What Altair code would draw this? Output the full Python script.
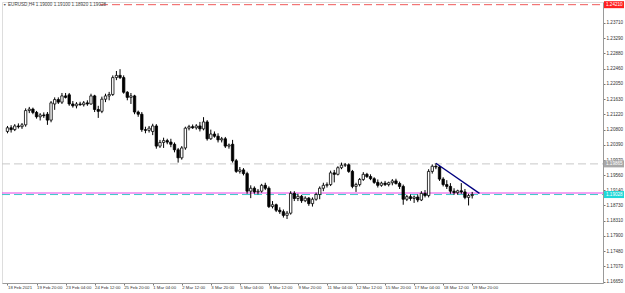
import altair as alt
import pandas as pd

# ---------------- data (EURUSD, H4) ----------------
opens = [1.2075, 1.2085, 1.2080, 1.2090, 1.2088, 1.2093, 1.2132, 1.2136, 1.2127, 1.2115,
         1.2120, 1.2122, 1.2106, 1.2150, 1.2162, 1.2155, 1.2172, 1.2175, 1.2150, 1.2145,
         1.2150, 1.2148, 1.2153, 1.2150, 1.2172, 1.2135, 1.2130, 1.2163, 1.2172, 1.2176,
         1.2222, 1.2228, 1.2222, 1.2182, 1.2168, 1.2172, 1.2128, 1.2122, 1.2080, 1.2078,
         1.2075, 1.2090, 1.2035, 1.2045, 1.2050, 1.2046, 1.2040, 1.2025, 1.2003, 1.2030,
         1.2084, 1.2088, 1.2085, 1.2090, 1.2082, 1.2101, 1.2055, 1.2068, 1.2062, 1.2052,
         1.2055, 1.2035, 1.2040, 1.1995, 1.1966, 1.1970, 1.1960, 1.1912, 1.1920, 1.1910,
         1.1912, 1.1928, 1.1920, 1.1870, 1.1875, 1.1860, 1.1856, 1.1846, 1.1852, 1.1906,
         1.1892, 1.1898, 1.1886, 1.1893, 1.1878, 1.1890, 1.1903, 1.1920, 1.1928, 1.1930,
         1.1962, 1.1958, 1.1976, 1.1983, 1.1984, 1.1966, 1.1925, 1.1930, 1.1944, 1.1958,
         1.1952, 1.1946, 1.1936, 1.1928, 1.1934, 1.1930, 1.1935, 1.1940, 1.1933, 1.1925,
         1.1890, 1.1897, 1.1892, 1.1896, 1.1888, 1.1906, 1.1900, 1.1966, 1.1980, 1.1978,
         1.1945, 1.1930, 1.1925, 1.1912, 1.1908, 1.1913, 1.1910, 1.1895, 1.1900]
highs = [1.2090, 1.2092, 1.2095, 1.2097, 1.2098, 1.2138, 1.2142, 1.2140, 1.2131, 1.2125,
         1.2127, 1.2128, 1.2158, 1.2168, 1.2168, 1.2180, 1.2180, 1.2180, 1.2158, 1.2155,
         1.2156, 1.2158, 1.2160, 1.2178, 1.2175, 1.2145, 1.2170, 1.2178, 1.2183, 1.2228,
         1.2240, 1.2245, 1.2228, 1.2185, 1.2180, 1.2175, 1.2132, 1.2128, 1.2088, 1.2090,
         1.2096, 1.2095, 1.2052, 1.2058, 1.2055, 1.2055, 1.2045, 1.2030, 1.2035, 1.2088,
         1.2093, 1.2094, 1.2095, 1.2101, 1.2114, 1.2106, 1.2080, 1.2075, 1.2070, 1.2060,
         1.2060, 1.2042, 1.2052, 1.2000, 1.1978, 1.1975, 1.1965, 1.1928, 1.1925, 1.1918,
         1.1932, 1.1935, 1.1925, 1.1885, 1.1878, 1.1868, 1.1862, 1.1858, 1.1912, 1.1912,
         1.1905, 1.1902, 1.1898, 1.1896, 1.1895, 1.1908, 1.1925, 1.1935, 1.1936, 1.1968,
         1.1970, 1.1980, 1.1990, 1.1989, 1.1988, 1.1970, 1.1935, 1.1948, 1.1964, 1.1962,
         1.1958, 1.1950, 1.1944, 1.1938, 1.1940, 1.1938, 1.1945, 1.1946, 1.1938, 1.1930,
         1.1902, 1.1903, 1.1900, 1.1903, 1.1912, 1.1915, 1.1972, 1.1985, 1.1988, 1.1982,
         1.1950, 1.1942, 1.1934, 1.1920, 1.1916, 1.1934, 1.1918, 1.1905, 1.1910]
lows = [1.2070, 1.2072, 1.2076, 1.2083, 1.2082, 1.2088, 1.2125, 1.2122, 1.2110, 1.2105,
        1.2112, 1.2093, 1.2100, 1.2134, 1.2150, 1.2150, 1.2165, 1.2145, 1.2140, 1.2138,
        1.2145, 1.2143, 1.2145, 1.2148, 1.2128, 1.2112, 1.2125, 1.2155, 1.2160, 1.2172,
        1.2215, 1.2218, 1.2178, 1.2160, 1.2150, 1.2122, 1.2115, 1.2074, 1.2070, 1.2072,
        1.2065, 1.2028, 1.2030, 1.2030, 1.2040, 1.2032, 1.2018, 1.1990, 1.1998, 1.2025,
        1.2078, 1.2082, 1.2080, 1.2075, 1.2078, 1.2050, 1.2052, 1.2058, 1.2045, 1.2045,
        1.2030, 1.2028, 1.1990, 1.1962, 1.1960, 1.1955, 1.1905, 1.1893, 1.1905, 1.1903,
        1.1908, 1.1915, 1.1866, 1.1865, 1.1855, 1.1850, 1.1840, 1.1836, 1.1848, 1.1885,
        1.1885, 1.1880, 1.1882, 1.1872, 1.1870, 1.1886, 1.1890, 1.1912, 1.1922, 1.1926,
        1.1936, 1.1955, 1.1972, 1.1978, 1.1962, 1.1920, 1.1910, 1.1925, 1.1940, 1.1948,
        1.1942, 1.1932, 1.1922, 1.1924, 1.1926, 1.1925, 1.1928, 1.1930, 1.1918, 1.1875,
        1.1885, 1.1886, 1.1880, 1.1882, 1.1885, 1.1895, 1.1895, 1.1960, 1.1972, 1.1940,
        1.1925, 1.1918, 1.1905, 1.1902, 1.1902, 1.1905, 1.1890, 1.1873, 1.1892]
closes = [1.2085, 1.2080, 1.2090, 1.2088, 1.2093, 1.2132, 1.2136, 1.2127, 1.2115, 1.2120,
          1.2118, 1.2106, 1.2153, 1.2162, 1.2155, 1.2172, 1.2168, 1.2150, 1.2145, 1.2150,
          1.2148, 1.2153, 1.2150, 1.2172, 1.2135, 1.2130, 1.2163, 1.2172, 1.2176, 1.2222,
          1.2228, 1.2222, 1.2182, 1.2168, 1.2172, 1.2128, 1.2122, 1.2080, 1.2078, 1.2084,
          1.2090, 1.2035, 1.2045, 1.2050, 1.2046, 1.2040, 1.2025, 1.2003, 1.2030, 1.2084,
          1.2088, 1.2085, 1.2090, 1.2082, 1.2101, 1.2055, 1.2068, 1.2062, 1.2052, 1.2055,
          1.2035, 1.2038, 1.1995, 1.1966, 1.1970, 1.1960, 1.1912, 1.1920, 1.1910, 1.1912,
          1.1928, 1.1920, 1.1870, 1.1875, 1.1860, 1.1856, 1.1846, 1.1852, 1.1906, 1.1892,
          1.1898, 1.1886, 1.1893, 1.1878, 1.1890, 1.1903, 1.1920, 1.1928, 1.1930, 1.1962,
          1.1958, 1.1976, 1.1983, 1.1984, 1.1966, 1.1925, 1.1930, 1.1944, 1.1958, 1.1952,
          1.1946, 1.1936, 1.1928, 1.1934, 1.1930, 1.1935, 1.1940, 1.1933, 1.1925, 1.1890,
          1.1897, 1.1892, 1.1896, 1.1888, 1.1906, 1.1900, 1.1966, 1.1980, 1.1978, 1.1945,
          1.1930, 1.1925, 1.1912, 1.1908, 1.1913, 1.1910, 1.1895, 1.1900, 1.19028]

x_tick_bars = [0, 8, 16, 24, 32, 40, 48, 56, 64, 72, 80, 88, 96, 104, 112, 120, 128]
x_tick_labels = ["18 Feb 2021", "19 Feb 20:00", "23 Feb 04:00", "24 Feb 12:00", "25 Feb 20:00",
                 "1 Mar 04:00", "2 Mar 12:00", "3 Mar 20:00", "5 Mar 04:00", "8 Mar 12:00",
                 "9 Mar 20:00", "11 Mar 04:00", "12 Mar 12:00", "15 Mar 20:00", "17 Mar 04:00",
                 "18 Mar 12:00", "19 Mar 20:00"]
y_ticks = [1.16650, 1.17070, 1.17480, 1.17900, 1.18310, 1.18730, 1.19140, 1.19560, 1.19970,
           1.20390, 1.20800, 1.21220, 1.21630, 1.22050, 1.22460, 1.22880, 1.23290, 1.23710]

red_level = 1.24210
grey_level = 1.19865
magenta_level = 1.19070
bid_level = 1.19028

trend_bars = [118, 130]
trend_prices = [1.19880, 1.19060]

title_text = "EURUSD,H4  1.19000 1.19100 1.18920 1.19028"

FONT = "Liberation Sans"
FS = 4.6
FSX = 4.3

# ---------------- chart ----------------
bars = list(range(len(opens)))
df = pd.DataFrame({"i": bars, "open": opens, "high": highs, "low": lows, "close": closes})

xs = alt.Scale(domain=[-0.135, 162.65], nice=False, zero=False)
ys = alt.Scale(domain=[1.16614, 1.24283], nice=False, zero=False)

label_expr = "[" + ",".join("'%s'" % s for s in x_tick_labels) + "][indexof([" + \
    ",".join(str(v) for v in x_tick_bars) + "], datum.value)]"

x_axis = alt.Axis(values=x_tick_bars, labelExpr=label_expr, title=None, grid=False,
                  labelAlign="left", labelFontSize=FSX, labelFont=FONT, labelColor="#333333",
                  tickSize=2, tickColor="#777777", domainColor="#9a9a9a", labelPadding=0,
                  labelOverlap=False, labelFlush=False, labelBound=False)
y_axis = alt.Axis(orient="right", values=y_ticks, format=".5f", title=None, grid=False,
                  labelFontSize=FS, labelFont=FONT, labelColor="#333333", tickSize=2,
                  tickColor="#777777", domainColor="#9a9a9a", labelPadding=1,
                  labelOverlap=False, labelBound=False, labelFlush=False)

wicks = alt.Chart(df).mark_rule(color="black", strokeWidth=1, clip=True).encode(
    x=alt.X("i:Q", scale=xs, axis=x_axis),
    y=alt.Y("low:Q", scale=ys, axis=y_axis),
    y2="high:Q",
)
bodies = alt.Chart(df).mark_bar(size=2.4, stroke="black", strokeWidth=0.8, clip=True).encode(
    x=alt.X("i:Q", scale=xs, axis=x_axis),
    y=alt.Y("open:Q", scale=ys, axis=y_axis),
    y2="close:Q",
    fill=alt.condition("datum.close >= datum.open", alt.value("white"), alt.value("black")),
)


def hline(price, color, dash, x0):
    d = pd.DataFrame({"p": [price]})
    kw = dict(color=color, strokeWidth=1)
    if dash:
        kw["strokeDash"] = dash
    return alt.Chart(d).mark_rule(**kw).encode(
        y=alt.Y("p:Q", scale=ys, axis=y_axis), x=alt.value(x0), x2=alt.value(601))


red_line = hline(red_level, "#f05a5a", [8, 4], 98)
grey_line = hline(grey_level, "#c8c8c8", [8, 4], 0)
magenta_line = hline(magenta_level, "#e646e6", None, 0)
bid_line = hline(bid_level, "#3cc8c8", [8, 4], 0)

trend_df = pd.DataFrame({"i": trend_bars, "p": trend_prices})
trend = alt.Chart(trend_df).mark_line(color="#00007f", strokeWidth=1.3).encode(
    x=alt.X("i:Q", scale=xs, axis=x_axis), y=alt.Y("p:Q", scale=ys, axis=y_axis))

box_df = pd.DataFrame({
    "p": [red_level, grey_level, bid_level],
    "t": ["%.5f" % red_level, "%.5f" % grey_level, "%.5f" % bid_level],
    "c": ["#ff2020", "#a8a8a8", "#20d8d8"],
})
boxes = alt.Chart(box_df).mark_tick(orient="horizontal", thickness=7, size=20, opacity=1).encode(
    y=alt.Y("p:Q", scale=ys, axis=y_axis), x=alt.value(612),
    color=alt.Color("c:N", scale=None))
box_text = alt.Chart(box_df).mark_text(align="left", baseline="middle", fontSize=FS, font=FONT,
                                       color="white", dx=0).encode(
    y=alt.Y("p:Q", scale=ys, axis=y_axis), x=alt.value(604), text="t:N")

title_df = pd.DataFrame({"t": [title_text]})
title = alt.Chart(title_df).mark_text(align="left", baseline="middle", fontSize=FS, font=FONT,
                                      color="#444444").encode(
    x=alt.value(6), y=alt.value(3), text="t:N")
arrow = alt.Chart(pd.DataFrame({"t": ["\u25bc"]})).mark_text(
    align="left", baseline="middle", fontSize=3.5, color="#555555").encode(
    x=alt.value(1), y=alt.value(3), text="t:N")

chart = alt.layer(
    grey_line, magenta_line, bid_line, red_line,
    wicks, bodies, trend, boxes, box_text, title, arrow
).properties(
    width=601, height=281,
    autosize=alt.AutoSizeParams(type="none"),
    padding={"left": 2, "top": 2, "right": 22, "bottom": 10},
).configure_view(
    stroke="#9a9a9a", strokeWidth=1
).configure_axis(
    labelOverlap=False
).configure(background="white")

chart.save("out.html", embed_options={"renderer": "svg", "actions": False})
